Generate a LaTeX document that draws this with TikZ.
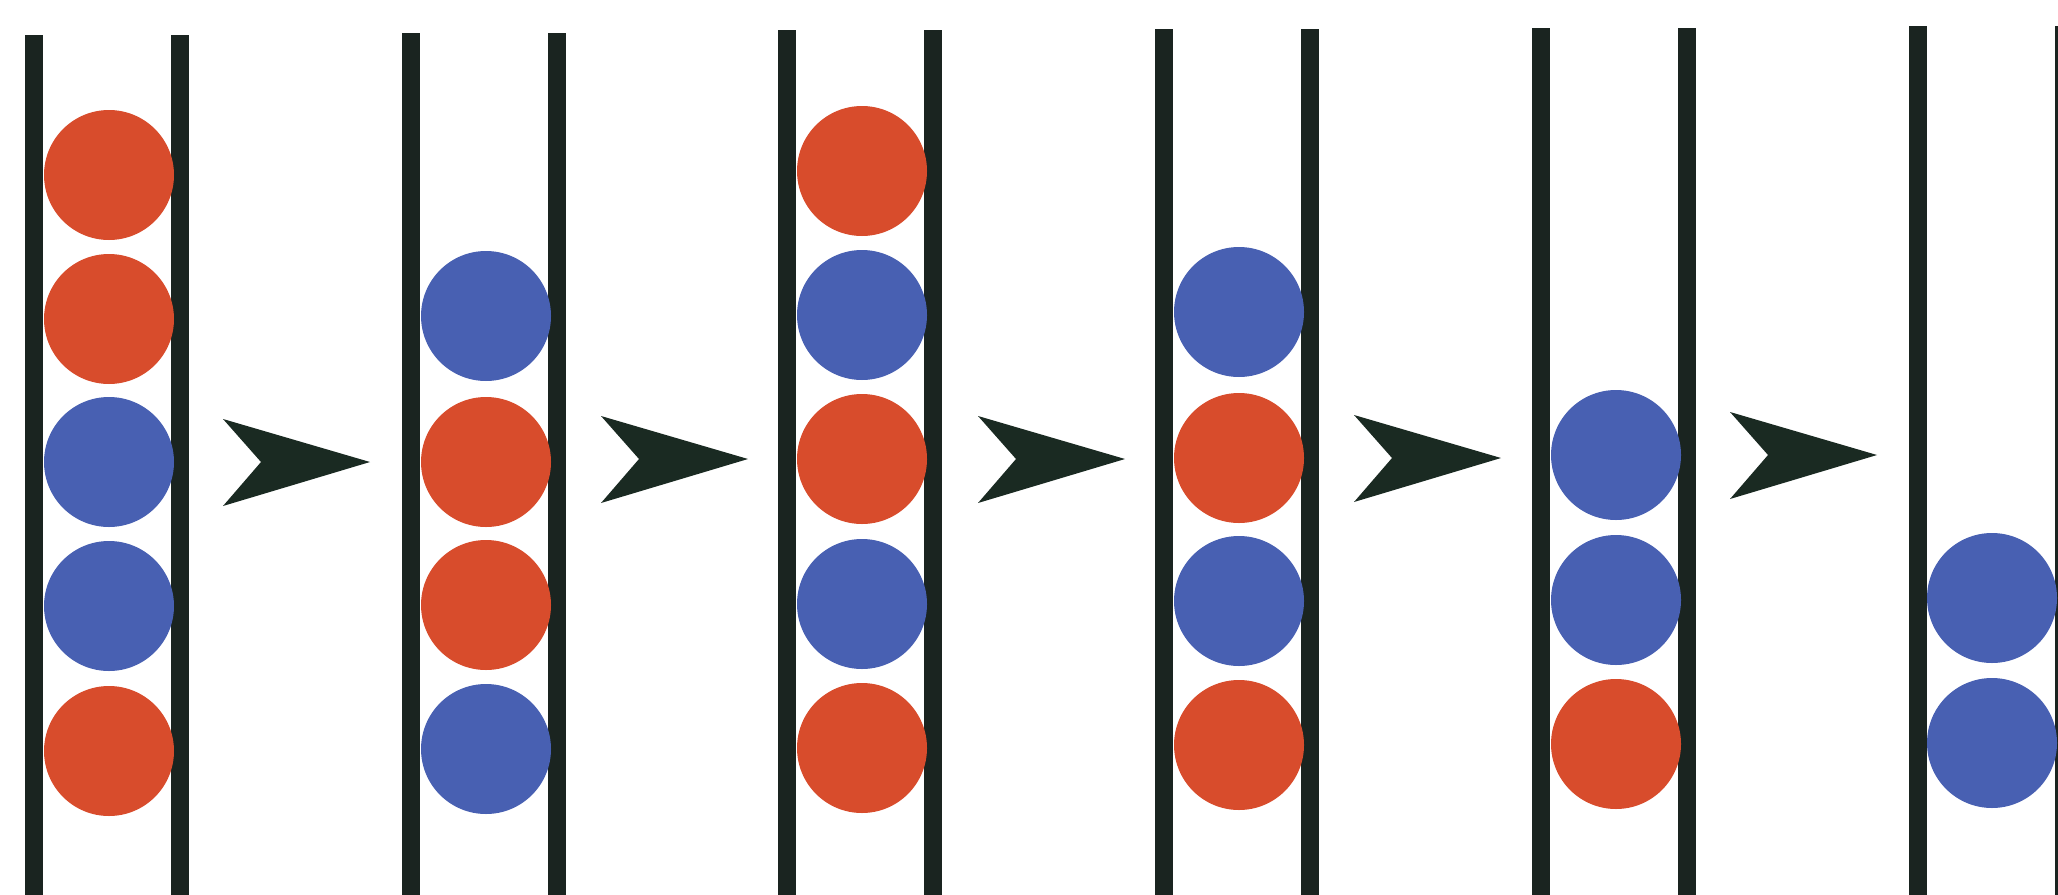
\documentclass[tikz,border=0pt]{standalone}
\definecolor{ballred}{RGB}{216,76,44}
\definecolor{ballblue}{RGB}{72,96,178}
\definecolor{wall}{RGB}{26,36,32}
\definecolor{chev}{RGB}{26,42,34}
\tikzset{
  wallline/.style={draw=wall, line width=18pt},
  redball/.style={circle, fill=ballred, minimum size=130pt, inner sep=0pt},
  blueball/.style={circle, fill=ballblue, minimum size=130pt, inner sep=0pt},
  chevron/.style={fill=chev}
}
\begin{document}
\begin{tikzpicture}[x=1pt,y=-1pt]
\useasboundingbox (0,0) rectangle (2058,894);
\clip (0,0) rectangle (2058,894);
% tubes: left x, top y
\foreach \lx/\ty [count=\i] in {34/35, 411/33, 787/30, 1164/29, 1541/28, 1918/26}{
  \draw[wallline] (\lx,\ty) -- (\lx,900);
  \draw[wallline] (\lx+146,\ty) -- (\lx+146,900);
}
% tube 1
\node[redball]  (a1) at (109,175) {};
\node[redball]  (a2) at (109,319) {};
\node[blueball] (a3) at (109,462) {};
\node[blueball] (a4) at (109,606) {};
\node[redball]  (a5) at (109,751) {};
% tube 2
\node[blueball] (b1) at (486,316) {};
\node[redball]  (b2) at (486,462) {};
\node[redball]  (b3) at (486,605) {};
\node[blueball] (b4) at (486,749) {};
% tube 3
\node[redball]  (c1) at (862,171) {};
\node[blueball] (c2) at (862,315) {};
\node[redball]  (c3) at (862,459) {};
\node[blueball] (c4) at (862,604) {};
\node[redball]  (c5) at (862,748) {};
% tube 4
\node[blueball] (d1) at (1239,312) {};
\node[redball]  (d2) at (1239,458) {};
\node[blueball] (d3) at (1239,601) {};
\node[redball]  (d4) at (1239,745) {};
% tube 5
\node[blueball] (e1) at (1616,455) {};
\node[blueball] (e2) at (1616,600) {};
\node[redball]  (e3) at (1616,744) {};
% tube 6
\node[blueball] (f1) at (1992,598) {};
\node[blueball] (f2) at (1992,743) {};
% chevrons
\foreach \ax/\ay in {223/462, 601/459, 978/459, 1354/458, 1730/455}{
  \fill[chevron] (\ax,\ay-43) -- (\ax+147,\ay) -- (\ax,\ay+44) -- (\ax+38,\ay) -- cycle;
}
\end{tikzpicture}
\end{document}
